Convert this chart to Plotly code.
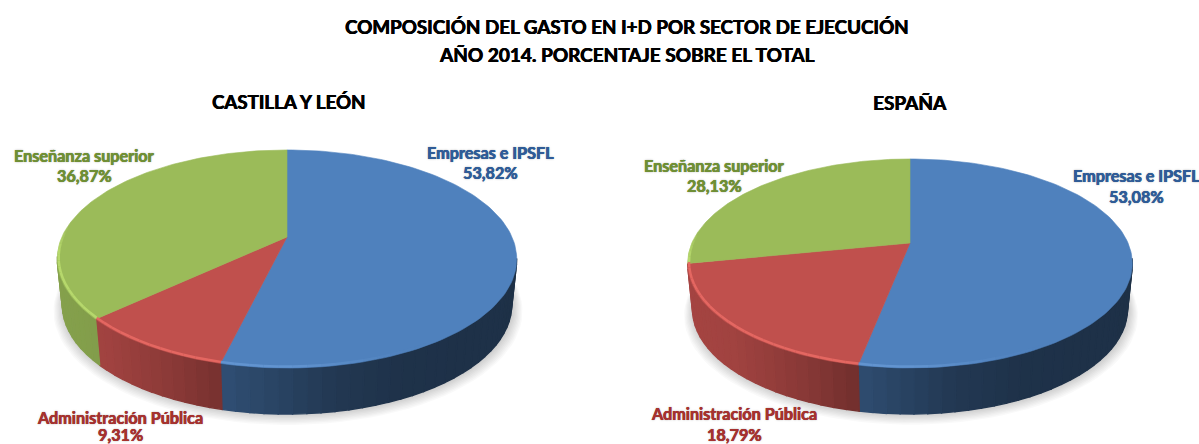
import numpy as np
import plotly.graph_objects as go

# ---- data ----
sectors = ["Empresas e IPSFL", "Administración Pública", "Enseñanza superior"]
values_cyl = [53.82, 9.31, 36.87]
values_esp = [53.08, 18.79, 28.13]
main_title_1 = "COMPOSICIÓN DEL GASTO EN I+D POR SECTOR DE EJECUCIÓN"
main_title_2 = "AÑO 2014. PORCENTAJE SOBRE EL TOTAL"
pie_title_cyl = "CASTILLA Y LEÓN"
pie_title_esp = "ESPAÑA"

# ---- styling ----
top_colors = [(79, 129, 189), (192, 80, 77), (155, 187, 89)]
rim_colors = [(100, 150, 210), (232, 105, 100), (185, 220, 110)]
label_colors = ["#2F5C97", "#A5322F", "#6F8F35"]
FONT = "Lato"

fig = go.Figure()


def add_poly(xs, ys, rgb=None, rgba=None, lw=1.4):
    col = rgba if rgba else "rgb(%d,%d,%d)" % rgb
    fig.add_trace(go.Scatter(x=xs, y=ys, mode="lines", fill="toself", fillcolor=col,
                             line=dict(color=col, width=lw if rgb else 0),
                             hoverinfo="skip", showlegend=False))


def add_pie(values, cx, apex_y, k, a, b, depth):
    # perspective projection of a unit disc
    def project(t):
        X, Y = np.sin(t), np.cos(t)
        d = 1 + k * Y
        return cx + b * X / d, apex_y - a * Y / d

    rx = b / np.sqrt(1 - k * k)
    frac = np.cumsum([0] + list(values)) / np.sum(values)
    angles = frac * 2 * np.pi

    # soft shadow
    t = np.linspace(0, 2 * np.pi, 120)
    sx, sy = project(t)
    sx0 = cx + (sx - cx) * 0.978
    sy0 = sy + depth
    mx, my = sx0.mean(), sy0.mean()
    for s in range(1, 9):
        f = 1 + s * 0.0055
        add_poly(mx + (sx0 - mx) * f + 1, my + (sy0 - my) * f + s * 0.7,
                 rgba="rgba(0,0,0,0.024)")

    # side wall, shaded across the width
    shade_u = [-1.0, -0.8, -0.5, -0.25, 0.2, 0.5, 1.0]
    shade_v = [0.86, 0.84, 0.72, 0.60, 0.44, 0.39, 0.38]
    for i, rgb in enumerate(top_colors):
        n = max(2, int(np.ceil((angles[i + 1] - angles[i]) / np.radians(3))))
        ts = np.linspace(angles[i], angles[i + 1], n + 1)
        for t0, t1 in zip(ts[:-1], ts[1:]):
            if np.cos(t0) > -k and np.cos(t1) > -k:
                continue
            x0, y0 = project(t0)
            x1, y1 = project(t1)
            u = (0.5 * (x0 + x1) - cx) / rx
            sh = float(np.interp(u, shade_u, shade_v))
            col = tuple(int(c * sh) for c in rgb)
            add_poly([x0, x1, cx + (x1 - cx) * 0.978, cx + (x0 - cx) * 0.978, x0],
                     [y0, y1, y1 + depth, y0 + depth, y0], rgb=col)

    # top face wedges
    for i, rgb in enumerate(top_colors):
        ts = np.linspace(angles[i], angles[i + 1], 120)
        x, y = project(ts)
        add_poly(np.r_[cx, x, cx], np.r_[apex_y, y, apex_y], rgb=rgb, lw=0.6)

    # bevel highlight along the front edge
    for i, rgb in enumerate(top_colors):
        n = max(2, int(np.ceil((angles[i + 1] - angles[i]) / np.radians(3))))
        ts = np.linspace(angles[i], angles[i + 1], n + 1)
        for t0, t1 in zip(ts[:-1], ts[1:]):
            tm = 0.5 * (t0 + t1)
            xm, _ = project(tm)
            u = (xm - cx) / rx
            al = float(np.interp(u, [-1, 0.0, 0.4, 0.6], [1, 1, 0.2, 0]))
            al *= float(np.interp(np.cos(tm), [-0.15, 0.1], [1, 0]))
            if al <= 0:
                continue
            x, y = project(np.linspace(t0, t1, 4))
            r = rim_colors[i]
            x = cx + (x - cx) * 0.994
            y = y - 1.5
            fig.add_trace(go.Scatter(
                x=x, y=y, mode="lines",
                line=dict(color="rgba(%d,%d,%d,%.2f)" % (r + (al * 0.9,)), width=2.5),
                hoverinfo="skip", showlegend=False))


add_pie(values_cyl, 287, 237, 0.2018, 104.6, 225, 46)
add_pie(values_esp, 910, 243, 0.196, 100.5, 218, 46)

fig.update_xaxes(range=[0, 1199], visible=False, fixedrange=True)
fig.update_yaxes(range=[444, 0], visible=False, fixedrange=True)


def text(x, y, s, size, color="#000000", shadow=None):
    f = dict(family=FONT, size=size, color=color, weight="bold")
    if shadow:
        f["shadow"] = shadow
    fig.add_annotation(x=x, y=y, xref="x", yref="y", text=s, showarrow=False,
                       font=f, xanchor="center", yanchor="middle")


def fmt(v):
    return ("%.2f" % v).replace(".", ",") + "%"


heavy = "0.4px 0 0 #000, -0.3px 0 0 #000"
text(627, 26, main_title_1, 18.8, shadow=heavy)
text(627, 54, main_title_2, 19, shadow=heavy)
text(288, 102, pie_title_cyl, 18.7, shadow=heavy)
text(910, 102, pie_title_esp, 19, shadow=heavy)

label_pos_cyl = [(490, 152, 172), (120, 417, 434), (84, 155, 175)]
label_pos_esp = [(1136, 175, 196), (734, 413, 434), (714, 165, 185)]
for vals, positions in ((values_cyl, label_pos_cyl), (values_esp, label_pos_esp)):
    for i, name in enumerate(sectors):
        px, y1, y2 = positions[i]
        glow = "0.3px 0 0 %s, -0.3px 0 0 %s, 0 0 2px rgba(120,120,120,0.6)" % (label_colors[i], label_colors[i])
        text(px, y1, name, 16.2, label_colors[i], glow)
        text(px, y2, fmt(vals[i]), 16.2, label_colors[i], glow)

fig.update_layout(width=1199, height=444, margin=dict(l=0, r=0, t=0, b=0),
                  paper_bgcolor="white", plot_bgcolor="white", showlegend=False)

fig.write_html("out.html", config=dict(displayModeBar=False),
               post_script="document.body.style.margin='0';document.documentElement.style.overflow='hidden';")
